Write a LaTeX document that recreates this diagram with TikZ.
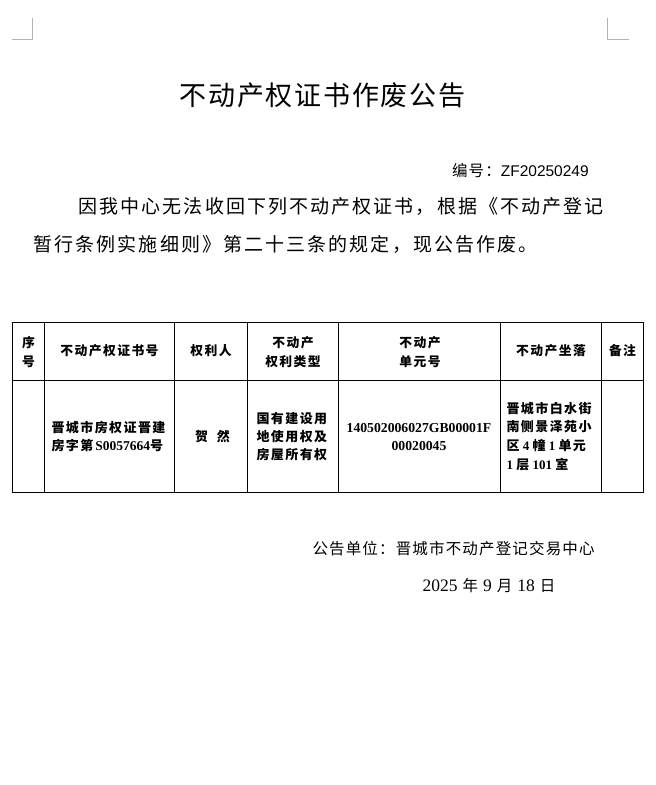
\documentclass[tikz,border=0pt]{standalone}
\usepackage{fontspec}
\setmainfont{Liberation Serif}
\newfontfamily\cjk{Noto Sans CJK SC}
\newfontfamily\titlecjk{Noto Sans CJK SC}[LetterSpace=6.5]
\newfontfamily\bodycjk{Noto Sans CJK SC}[LetterSpace=11]
\newfontfamily\footcjk{Noto Sans CJK SC}[LetterSpace=7.5]
\newfontfamily\tabcjk{Noto Sans CJK SC}[LetterSpace=11]
\newfontfamily\lserif{Liberation Serif}
\newfontfamily\lsans{Liberation Sans}
\begin{document}
\begin{tikzpicture}[x=1pt,y=-1pt,
  tx/.style={inner sep=0pt, outer sep=0pt},
  titlefont/.style={font=\fontsize{27}{30}\selectfont\titlecjk},
  bodyfont/.style={font=\fontsize{19}{22}\selectfont\bodycjk},
  footfont/.style={font=\fontsize{15.5}{18}\selectfont\footcjk},
  tabtxt/.style={tx, font=\fontsize{12.8}{19.7}\selectfont\tabcjk\bfseries},
  tabbody/.style={tx, font=\fontsize{13}{18.4}\selectfont\tabcjk\bfseries},
  cellL/.style={tabbody, anchor=west, align=left},
  cellC/.style={tabbody, align=center},
  grid/.style={draw=black, line width=0.9pt},
  cornermark/.style={draw=black!30, line width=0.9pt}
]
\useasboundingbox (0,0) rectangle (656,785);
% corner marks
\draw[cornermark] (12,39.3) -- (32.3,39.3) -- (32.3,17.7);
\draw[cornermark] (607.3,17.7) -- (607.3,39.3) -- (628.7,39.3);

% title
\node[tx, titlefont] (title) at (322.5,95) {不动产权证书作废公告};

% number
\node[tx, anchor=west, font=\fontsize{15.5}{18}\selectfont] (num) at (452,170.7)
  {{\footcjk 编号：}{\lsans ZF20250249}};

% paragraph
\node[tx, bodyfont, anchor=west] (line1) at (78.5,206.7)
  {因我中心无法收回下列不动产权证书，根据《不动产登记};
\node[tx, bodyfont, anchor=west] (line2) at (33.5,244.3)
  {暂行条例实施细则》第二十三条的规定，现公告作废。};

% table grid
\draw[grid] (12,322) rectangle (643,492);
\draw[grid] (12,380) -- (643,380);
\foreach \cx in {44,174,247,338,500,601}
  \draw[grid] (\cx,322) -- (\cx,492);

% header
\node[tabtxt, align=center] (h1) at (28.5,352) {序\\号};
\node[tabtxt] (h2) at (109.5,351) {不动产权证书号};
\node[tabtxt] (h3) at (211,351) {权利人};
\node[tabtxt, align=center] (h4) at (293,352) {不动产\\权利类型};
\node[tabtxt, align=center] (h5) at (420,352) {不动产\\单元号};
\node[tabtxt] (h6) at (551,351) {不动产坐落};
\node[tabtxt] (h7) at (622.5,351) {备注};

% body row
\node[cellL] (b2) at (51.5,436.7)
  {晋城市房权证晋建\\房字第\hspace{2pt}{\lserif\fontsize{13.5}{18.4}\selectfont S0057664}号};
\node[cellC] (b3) at (212.5,436.7) {贺\hspace{9pt}然};
\node[cellL] (b4) at (256.5,436.7) {国有建设用\\地使用权及\\房屋所有权};
\node[tx, align=center, font=\fontsize{13.7}{18.4}\selectfont\lserif\bfseries] (b5) at (419,436.8)
  {140502006027GB00001F\\00020045};
\node[cellL, font=\fontsize{13}{18.7}\selectfont\tabcjk\bfseries] (b6) at (506.5,436.3)
  {晋城市白水街\\南侧景泽苑小\\区{\lserif\ 4\ }幢{\lserif\ 1\ }单元\\{\lserif 1\ }层{\lserif\ 101\ }室};

% footer
\node[tx, footfont, anchor=west] (unit) at (312.5,549)
  {公告单位：晋城市不动产登记交易中心};
\node[tx, anchor=west, font=\fontsize{15.5}{18}\selectfont] (date) at (422.5,586)
  {{\lserif\fontsize{17.5}{18}\selectfont 2025}\hspace{5pt}{\cjk 年}\hspace{5pt}{\lserif\fontsize{17.5}{18}\selectfont 9}\hspace{5pt}{\cjk 月}\hspace{5pt}{\lserif\fontsize{17.5}{18}\selectfont 18}\hspace{5pt}{\cjk 日}};
\end{tikzpicture}
\end{document}
